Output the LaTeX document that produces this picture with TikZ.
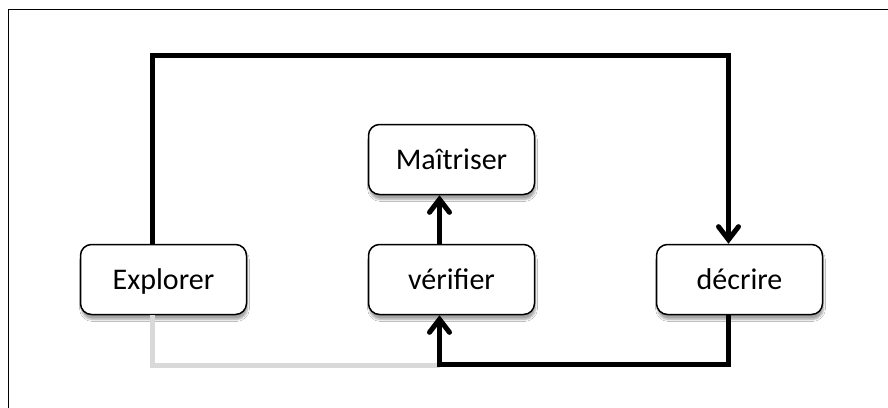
\documentclass[tikz,border=0pt]{standalone}
\usepackage{fontspec}
\setmainfont{Carlito}
\usetikzlibrary{arrows.meta,shadows.blur}
\definecolor{greyline}{HTML}{D9D9D9}
\tikzset{
  box/.style={draw=black, line width=1.5pt, rounded corners=11pt, fill=white,
    minimum width=166pt, minimum height=70pt, inner sep=0pt,
    font=\fontsize{30}{35}\selectfont, text height=19pt, text depth=0pt,
    blur shadow={shadow xshift=1pt, shadow yshift=-5pt, shadow blur steps=6, shadow opacity=35}},
  conn/.style={draw=black, line width=5pt, line join=miter},
  greyconn/.style={draw=greyline, line width=5pt, line join=miter},
  tip/.style={-{Straight Barb[length=13pt,width=20pt,line cap=round]}},
}
\begin{document}
\begin{tikzpicture}[x=1pt,y=-1pt]
\useasboundingbox (0,0) rectangle (888,407);
\clip (0,0) rectangle (888,407);
\fill[white] (0,0) rectangle (888,407);
\draw[line width=1.5pt] (8.5,9.5) rectangle (960,470);

\node[box] (Explorer) at (163.5,279.5) {Explorer};
\node[box] (verifier) at (451.5,279.5) {vérifier};
\node[box] (decrire) at (739.5,279.5) {décrire};
\node[box] (maitriser) at (451.5,159.5) {Maîtriser};

\coordinate (tl) at (152,55.5);
\coordinate (tr) at (728.5,55.5);
\coordinate (br) at (728.5,364.5);
\coordinate (bl) at (439.5,364.5);
\coordinate (gl) at (152,365.5);
\coordinate (gr) at (439.5,365.5);

\draw[greyconn] (Explorer.south -| gl) -- (gl) -- (gr);
\draw[conn,tip] (Explorer.north -| tl) -- (tl) -- (tr) -- (decrire.north -| tr);
\draw[conn,tip] (decrire.south -| br) -- (br) -- (bl) -- (verifier.south -| bl);
\draw[conn,tip] (verifier.north -| bl) -- (maitriser.south -| bl);
\end{tikzpicture}
\end{document}
